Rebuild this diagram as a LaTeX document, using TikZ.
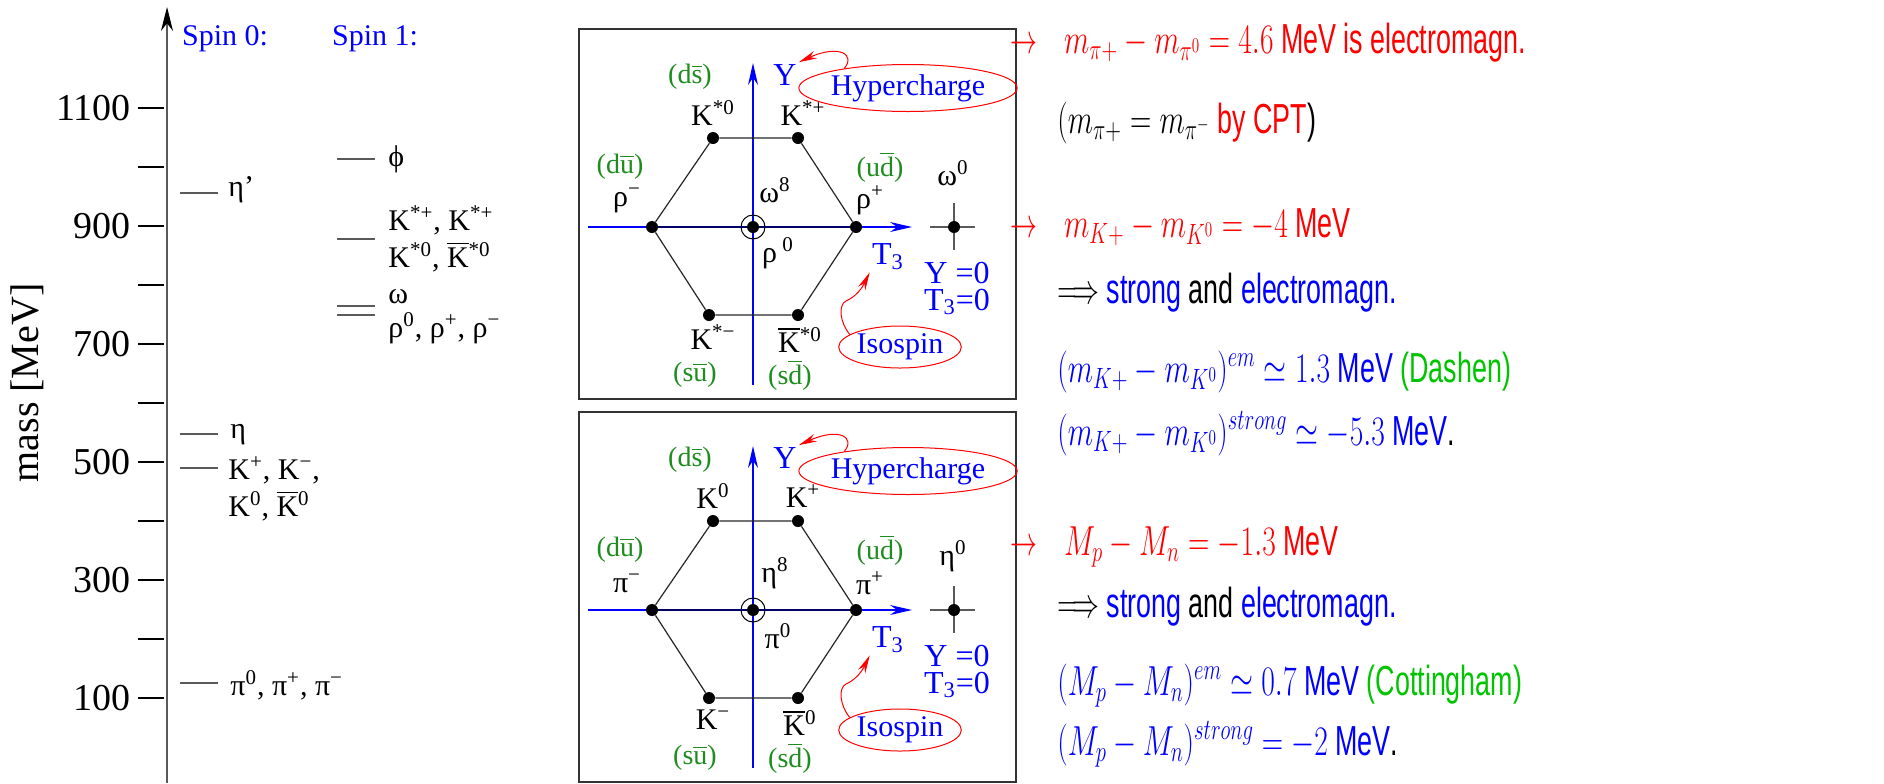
\RequirePackage{fix-cm}
\documentclass[tikz,border=0pt]{standalone}
\usepackage[no-math]{fontspec}
\setmainfont{Liberation Serif}
\setsansfont{Liberation Sans}
\usepackage{amsmath}
\usepackage{graphicx}
\usepackage{xcolor}
\usepackage{tikz}
\usetikzlibrary{arrows.meta,calc,shapes.geometric}
\definecolor{ink}{HTML}{000000}
\definecolor{rule}{HTML}{5A5A5A}
\definecolor{hue}{HTML}{0000FF}
\definecolor{warn}{HTML}{FF0000}
\definecolor{qgreen}{HTML}{1E8C1E}
\definecolor{cite}{HTML}{00C400}
\newcommand\chg[1]{\textsuperscript{#1}}
\newcommand\qb[1]{$\overline{\mbox{#1}}$}
\newcommand\squeeze[1]{\scalebox{0.64}[1]{#1}}
\newcommand\eq[1]{\scalebox{1.1}[1]{$#1$}}

\begin{document}
\begin{tikzpicture}[x=0.5pt,y=-0.5pt,font=\fontsize{15}{18.5}\selectfont,
 dot/.style={circle,fill=ink,inner sep=0pt,minimum size=6pt},
 lbl/.style={inner sep=1pt},
 quark/.style={text=qgreen,inner sep=1pt,font=\fontsize{14}{16}\selectfont},
 axlbl/.style={text=hue,inner sep=1pt,font=\fontsize{16}{18}\selectfont},
 tag/.style={ellipse,draw=warn,line width=0.5pt,text=hue,inner sep=0pt},
 curl/.style={warn,line width=0.5pt,-{Stealth[length=9pt,width=4pt]}},
 axisline/.style={hue,line width=0.6pt,-{Stealth[length=11pt,width=5pt]}},
 level/.style={rule,line width=0.6pt},
 rtext/.style={anchor=base west,inner sep=0pt,font=\sffamily\fontsize{21}{25}\selectfont}]
\useasboundingbox (0,0) rectangle (1884,783);

% mass axis: 100 MeV = 59 px, zero at y=757
\coordinate (mbot) at (167,783);
\coordinate (mtop) at (167,7);
\draw[rule,line width=0.6pt,-{Stealth[length=12pt,width=6pt,color=ink]}] (mbot) -- (mtop);
\foreach \m in {100,200,...,1100}
 \draw[ink,line width=0.6pt] (138,{757-0.59*\m}) -- (164,{757-0.59*\m});
\foreach \m in {100,300,...,1100}
 \node[anchor=east,inner sep=0pt,font=\fontsize{19}{22}\selectfont] (t\m) at (131,{757-0.59*\m}) {\m};
\node[rotate=90,font=\fontsize{20}{24}\selectfont] (mass) at (27,383) {mass [MeV]};
\node[text=hue] (spin0) at (225,39) {Spin 0:};
\node[text=hue] (spin1) at (375,39) {Spin 1:};

% levels: line x / line y / label x / label y
\foreach \xx/\yy/\lx/\ly/\nm/\lbl in {
 180/193/226/190/etap/{η’},
 180/434/228/435/eta/{η},
 180/468/226/489/kaon/{K\chg{+}, K\chg{−},\\K\chg{0}, \qb{K}\chg{0}},
 180/683/228/685/pion/{π\chg{0}, π\chg{+}, π\chg{−}},
 337/159/386/159/phi/{ϕ},
 337/239/386/239/kstar/{K\chg{*+}, K\chg{*+}\\K\chg{*0}, \qb{K}\chg{*0}},
 337/306/386/297/omega/{ω},
 337/315/386/328/rho/{ρ\chg{0}, ρ\chg{+}, ρ\chg{−}}} {
 \draw[level] (\xx,\yy) -- ++(38,0);
 \node[lbl,anchor=west,align=left] (\nm) at (\lx,\ly) {\lbl};
}

% octets: one panel per row, shifted down by \dy
\foreach \dy/\pa/\ktl/\ktr/\mlf/\mrt/\mup/\mdn/\msg/\kbl/\kbr in {
 0/a/{K\chg{*0}}/{K\chg{*+}}/{ρ\chg{−}}/{ρ\chg{+}}/{ω\chg{8}}/{ρ\chg{ 0}}/{ω\chg{0}}/{K\chg{*−}}/{\qb{K}\chg{*0}},
 383/b/{K\chg{0}}/{K\chg{+}}/{π\chg{−}}/{π\chg{+}}/{η\chg{8}}/{π\chg{0}}/{η\chg{0}}/{K\chg{−}}/{\qb{K}\chg{0}}} {
 \draw[ink!80,line width=0.6pt] (579,29+\dy) rectangle (1016,399+\dy);
 \coordinate (o\pa) at (753,227+\dy);
 \coordinate (xw\pa) at (588,227+\dy);
 \coordinate (xe\pa) at (912,227+\dy);
 \coordinate (ys\pa) at (753,385+\dy);
 \coordinate (yn\pa) at (753,63+\dy);
 \coordinate (so\pa) at (954,227+\dy);
 \draw[axisline] (xw\pa) -- (xe\pa);
 \draw[axisline] (ys\pa) -- (yn\pa);
 \node[dot] (tl\pa) at ($(o\pa)+(-40,-89)$) {};
 \node[dot] (tr\pa) at ($(o\pa)+(45,-89)$) {};
 \node[dot] (l\pa) at ($(o\pa)+(-101,0)$) {};
 \node[dot] (r\pa) at ($(o\pa)+(103,0)$) {};
 \node[dot] (bl\pa) at ($(o\pa)+(-44,88)$) {};
 \node[dot] (br\pa) at ($(o\pa)+(45,88)$) {};
 \node[dot] (c\pa) at (o\pa) {};
 \node[circle,draw=ink,line width=0.5pt,minimum size=12pt] (ring\pa) at (o\pa) {};
 \draw[ink!85,line width=0.6pt] (tl\pa) -- (tr\pa) -- (r\pa) -- (br\pa) -- (bl\pa) -- (l\pa) -- (tl\pa);
 \draw[ink!60!hue,line width=0.8pt] (l\pa) -- (c\pa) -- (r\pa);
 % singlet
 \draw[rule,line width=0.7pt] ($(so\pa)+(-24,0)$) -- ($(so\pa)+(21,0)$);
 \draw[rule,line width=0.7pt] ($(so\pa)+(0,-24)$) -- ($(so\pa)+(0,23)$);
 \node[dot] (s\pa) at (so\pa) {};
 % labels
 \node[quark] (ds\pa) at (690,77+\dy) {(d\qb{s})};
 \node[lbl] (ktl\pa) at (713,113+\dy) {\ktl};
 \node[axlbl] (Y\pa) at (785,75+\dy) {Y};
 \node[lbl] (ktr\pa) at (803,113+\dy) {\ktr};
 \node[tag,minimum width=93pt,minimum height=23.5pt] (hyp\pa) at (908,88+\dy) {Hypercharge};
 \node[quark] (du\pa) at (620,167+\dy) {(d\qb{u})};
 \node[lbl] (mlf\pa) at (627,200+\dy) {\mlf};
 \node[lbl] (mup\pa) at (775,190+\dy) {\mup};
 \node[quark] (ud\pa) at (880,167+\dy) {(u\qb{d})};
 \node[lbl] (mrt\pa) at (870,200+\dy) {\mrt};
 \node[lbl] (msg\pa) at (953,173+\dy) {\msg};
 \node[lbl] (mdn\pa) at (778,253+\dy) {\mdn};
 \node[axlbl] (T\pa) at (888,257+\dy) {T\textsubscript{3}};
 \node[axlbl,anchor=base,inner sep=0pt] (yz\pa) at (957,283+\dy) {Y =0};
 \node[axlbl,anchor=base,inner sep=0pt] (tz\pa) at (957,310+\dy) {T\textsubscript{3}=0};
 \node[tag,minimum width=56pt,minimum height=21pt] (iso\pa) at (900,347+\dy) {Isospin};
 \node[lbl] (kbl\pa) at (713,337+\dy) {\kbl};
 \node[lbl] (kbr\pa) at (800,340+\dy) {\kbr};
 \node[quark] (su\pa) at (695,375+\dy) {(s\qb{u})};
 \node[quark] (sd\pa) at (790,375+\dy) {(s\qb{d})};
 \coordinate (kink\pa) at (846,301+\dy);
 \draw[curl] (hyp\pa.163) .. controls +(12,-14) and +(40,-18) .. (Y\pa.north east);
 \draw[curl] (iso\pa.166) .. controls +(-10,-12) and +(-8,4) .. (kink\pa)
  .. controls +(14,-6) and +(-4,8) .. (T\pa.south west);
}

% right column: baseline y / start x
\foreach \yy/\xx/\nm/\txt in {
 53/1010/piem/{\textcolor{warn}{$\rightarrow$\quad\eq{m_{\pi+}-m_{\pi^0}=4.6} MeV is electromagn.}},
 133/1057/cpt/{\eq{(m_{\pi+}=m_{\pi^-}} \textcolor{warn}{by CPT})},
 237/1010/kem/{\textcolor{warn}{$\rightarrow$\quad\eq{m_{K+}-m_{K^0}=-4} MeV}},
 303/1057/kmix/{$\Longrightarrow$ \textcolor{hue}{strong} and \textcolor{hue}{electromagn.}},
 382/1057/kdash/{\textcolor{hue}{\eq{(m_{K+}-m_{K^0})^{em}\simeq1.3} MeV} \textcolor{cite}{(Dashen)}},
 445/1057/kstr/{\textcolor{hue}{\eq{(m_{K+}-m_{K^0})^{strong}\simeq-5.3} MeV}.},
 555/1010/nem/{\textcolor{warn}{$\rightarrow$\quad\eq{M_p-M_n=-1.3} MeV}},
 617/1057/nmix/{$\Longrightarrow$ \textcolor{hue}{strong} and \textcolor{hue}{electromagn.}},
 695/1057/ncott/{\textcolor{hue}{\eq{(M_p-M_n)^{em}\simeq0.7} MeV} \textcolor{cite}{(Cottingham)}},
 755/1057/nstr/{\textcolor{hue}{\eq{(M_p-M_n)^{strong}=-2} MeV}.}}
 \node[rtext] (\nm) at (\xx,\yy) {\squeeze{\txt}};
\end{tikzpicture}
\end{document}
